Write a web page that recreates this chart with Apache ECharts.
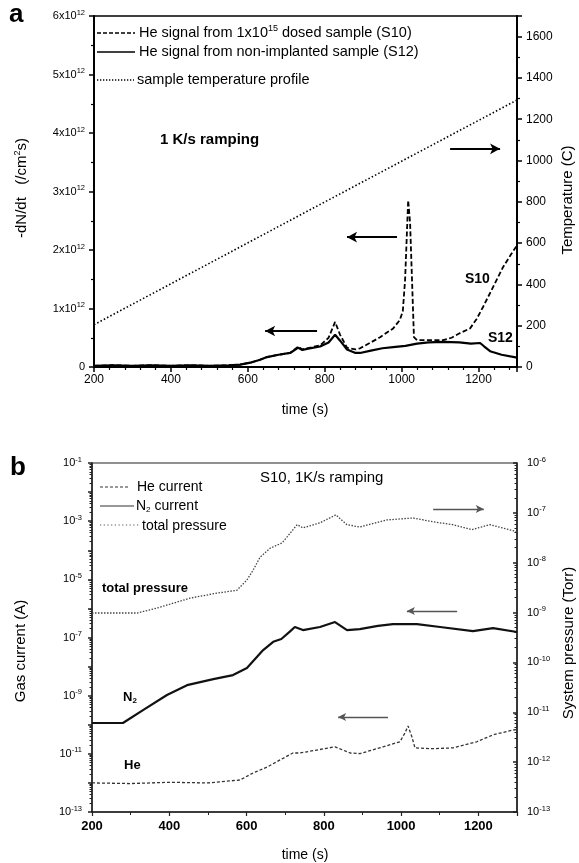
<!DOCTYPE html>
<html><head><meta charset="utf-8">
<script src="https://cdn.jsdelivr.net/npm/echarts@6/dist/echarts.min.js"></script>
<style>html,body{margin:0;padding:0;background:#fff}#c{width:579px;height:863px}</style>
</head><body><div id="c"></div>
<script>
const FONT = '"Liberation Sans", Arial, sans-serif';

// ---------- Panel a data ----------
const s10Time = [200,250,300,350,400,450,500,550,580,610,630,650,680,710,731,742,754,788,810,827,840,858,880,892,920,944,978,995,1003,1009,1017,1022,1027,1032,1040,1070,1108,1130,1152,1178,1195,1212,1238,1264,1285,1300];
const s10Signal = [0.02e12,0.03e12,0.02e12,0.03e12,0.02e12,0.03e12,0.02e12,0.03e12,0.04e12,0.08e12,0.12e12,0.17e12,0.21e12,0.24e12,0.35e12,0.30e12,0.32e12,0.37e12,0.50e12,0.77e12,0.55e12,0.33e12,0.30e12,0.32e12,0.42e12,0.51e12,0.66e12,0.80e12,0.95e12,1.49e12,2.85e12,2.46e12,1.49e12,0.51e12,0.46e12,0.46e12,0.46e12,0.50e12,0.58e12,0.66e12,0.82e12,1.03e12,1.37e12,1.71e12,1.93e12,2.08e12];
const s12Time = [200,250,300,350,400,450,500,550,580,610,630,650,680,710,731,742,754,788,810,827,840,858,880,892,920,950,978,1010,1040,1070,1108,1150,1180,1204,1215,1230,1260,1300];
const s12Signal = [0.02e12,0.03e12,0.02e12,0.03e12,0.02e12,0.03e12,0.02e12,0.03e12,0.04e12,0.08e12,0.12e12,0.17e12,0.21e12,0.24e12,0.33e12,0.29e12,0.31e12,0.35e12,0.42e12,0.55e12,0.45e12,0.30e12,0.24e12,0.24e12,0.28e12,0.32e12,0.34e12,0.36e12,0.40e12,0.42e12,0.43e12,0.42e12,0.40e12,0.41e12,0.35e12,0.27e12,0.21e12,0.16e12];
const tempTime = [200,736,1300];
const tempValue = [205,736,1293];

// ---------- Panel b data ----------
const n2Time = [200,280,332,394,446,514,565,601,643,669,690,712,725,746,790,829,860,893,940,979,1041,1101,1186,1238,1300];
const n2Current = [1.15e-10,1.15e-10,3.2e-10,1.05e-9,2.3e-9,3.7e-9,5.1e-9,8.9e-9,3.7e-8,7.1e-8,8.9e-8,1.6e-7,2.3e-7,1.8e-7,2.3e-7,3.4e-7,1.8e-7,1.95e-7,2.5e-7,2.9e-7,2.9e-7,2.3e-7,1.66e-7,2.1e-7,1.55e-7];
const heTime = [200,300,400,500,583,617,653,687,720,738,782,829,868,894,953,997,1010,1018,1028,1036,1083,1134,1196,1238,1290,1300];
const heCurrent = [1.0e-12,9.5e-13,1.05e-12,1.0e-12,1.26e-12,2.2e-12,3.5e-12,6.2e-12,1.07e-11,1.07e-11,1.35e-11,1.74e-11,1.07e-11,1.02e-11,1.74e-11,2.6e-11,5.2e-11,9.1e-11,3.8e-11,1.6e-11,1.5e-11,1.6e-11,2.6e-11,4.5e-11,6.6e-11,6.8e-11];
const ptTime = [200,317,368,454,523,575,601,617,635,661,692,705,731,746,790,831,860,893,963,1031,1083,1134,1183,1230,1300];
const ptPressure = [9.8e-10,9.8e-10,1.23e-9,1.95e-9,2.45e-9,2.8e-9,4.5e-9,7.1e-9,1.29e-8,1.95e-8,2.5e-8,3.3e-8,5.8e-8,5.0e-8,6.3e-8,9.1e-8,5.8e-8,5.2e-8,7.2e-8,7.9e-8,6.6e-8,5.8e-8,4.6e-8,5.8e-8,4.2e-8];

// arrows (data units): [t_from, t_to, value]
const arrowsA_left = [[780,645,0.615e12],[988,858,2.22e12],[1126,1256,3.73e12]];
const arrowsB_left = [[1083,1214,2.6e-3],[1145,1015,8.1e-7],[966,837,1.86e-10]];

const zip = (a,b) => a.map((x,i)=>[x,b[i]]);
const minorLogLeft = [], minorLogRight = [];
for (let k=-13;k<=-2;k++) for (let m=2;m<=9;m++) minorLogLeft.push(m*Math.pow(10,k));
for (let k=-13;k<=-7;k++) for (let m=2;m<=9;m++) minorLogRight.push(m*Math.pow(10,k));

const supRich = {
  m:{fontSize:11,fontFamily:FONT,color:'#000'},
  s:{fontSize:7.5,fontFamily:FONT,color:'#000',padding:[0,0,7,0]}
};
const expOf = v => Math.round(Math.log10(v));
const plain = v => String(Math.round(v));

const chart = echarts.init(document.getElementById('c'));
const arrowLine = (arr, w, color, size) => ({
  silent:true, symbol:['none','arrow'], symbolSize:size, animation:false,
  lineStyle:{type:'solid',width:w,color:color}, label:{show:false},
  itemStyle:{color:color},
  emphasis:{disabled:true},
  data: arr.map(a=>[{coord:[a[0],a[2]]},{coord:[a[1],a[2]]}])
});

const option = {
  animation:false,
  textStyle:{fontFamily:FONT},
  grid:[
    {left:94,top:16,width:423,height:351,show:true,borderColor:'#000',borderWidth:1.5},
    {left:92,top:463,width:425,height:349,show:true,borderColor:'#222',borderWidth:1.2}
  ],
  xAxis:[
    {gridIndex:0,type:'value',min:200,max:1300,interval:200,
     axisLine:{lineStyle:{color:'#000',width:2}},
     axisTick:{length:5,lineStyle:{width:1.5}},
     minorTick:{show:true,splitNumber:5,length:3,lineStyle:{color:'#000',width:1.2}},
     splitLine:{show:false},
     axisLabel:{fontSize:12,color:'#000',margin:7,showMaxLabel:false,formatter:plain}},
    {gridIndex:1,type:'value',min:200,max:1300,interval:200,
     axisLine:{lineStyle:{color:'#222',width:1.5}},
     axisTick:{length:4,lineStyle:{width:1.2}},
     minorTick:{show:true,splitNumber:2,length:3,lineStyle:{color:'#222',width:1}},
     splitLine:{show:false},
     axisLabel:{fontSize:13,fontWeight:'bold',color:'#000',margin:8,showMaxLabel:false,formatter:plain}}
  ],
  yAxis:[
    {gridIndex:0,type:'value',min:0,max:6e12,interval:1e12,position:'left',
     axisLine:{show:true,lineStyle:{color:'#000',width:2}},
     axisTick:{show:true,length:5,lineStyle:{width:1.5}},
     minorTick:{show:true,splitNumber:2,length:3,lineStyle:{color:'#000',width:1.2}},
     splitLine:{show:false},
     axisLabel:{margin:9,formatter:v=>v===0?'{m|0}':'{m|'+Math.round(v/1e12)+'x10}{s|12}',rich:supRich}},
    {gridIndex:0,type:'value',min:0,max:1700,interval:200,position:'right',
     axisLine:{show:true,lineStyle:{color:'#000',width:2}},
     axisTick:{show:true,length:5,lineStyle:{width:1.5}},
     minorTick:{show:true,splitNumber:2,length:3,lineStyle:{color:'#000',width:1.2}},
     splitLine:{show:false},
     axisLabel:{fontSize:12,color:'#000',margin:9,showMaxLabel:false,formatter:plain}},
    {gridIndex:1,type:'log',logBase:10,min:1e-13,max:1e-1,interval:1,position:'left',
     axisLine:{show:true,lineStyle:{color:'#222',width:1.5}},
     axisTick:{show:true,length:4,lineStyle:{width:1.5}},
     splitLine:{show:false},
     axisLabel:{margin:10,formatter:v=>{const e=expOf(v);return (Math.abs(e)%2===1)?'{m|10}{s|'+e+'}':'';},rich:supRich}},
    {gridIndex:1,type:'log',logBase:10,min:1e-13,max:1e-6,interval:1,position:'right',
     axisLine:{show:true,lineStyle:{color:'#222',width:1.5}},
     axisTick:{show:true,inside:true,length:4,lineStyle:{width:1.5}},
     splitLine:{show:false},
     axisLabel:{margin:10,formatter:v=>'{m|10}{s|'+expOf(v)+'}',rich:supRich}},
    {gridIndex:1,type:'log',logBase:10,min:1e-13,max:1e-1,position:'left',
     axisLine:{show:false},axisLabel:{show:false},splitLine:{show:false},
     axisTick:{show:true,length:2.5,customValues:minorLogLeft,lineStyle:{color:'#222',width:1}}},
    {gridIndex:1,type:'log',logBase:10,min:1e-13,max:1e-6,position:'right',
     axisLine:{show:false},axisLabel:{show:false},splitLine:{show:false},
     axisTick:{show:true,inside:true,length:2.5,customValues:minorLogRight,lineStyle:{color:'#222',width:1}}}
  ],
  series:[
    {name:'temp',type:'line',xAxisIndex:0,yAxisIndex:1,data:zip(tempTime,tempValue),showSymbol:false,symbol:'none',
     lineStyle:{color:'#000',width:1.6,type:[1.5,2.2]}},
    {name:'S12',type:'line',xAxisIndex:0,yAxisIndex:0,data:zip(s12Time,s12Signal),showSymbol:false,symbol:'none',
     lineStyle:{color:'#000',width:2.2,type:'solid'},
     markLine:arrowLine(arrowsA_left,2,'#000',[8,10])},
    {name:'S10',type:'line',xAxisIndex:0,yAxisIndex:0,data:zip(s10Time,s10Signal),showSymbol:false,symbol:'none',
     lineStyle:{color:'#000',width:1.8,type:[5,2.5]}},
    {name:'total',type:'line',xAxisIndex:1,yAxisIndex:3,data:zip(ptTime,ptPressure),showSymbol:false,symbol:'none',
     lineStyle:{color:'#444',width:1.3,type:[1.5,1.5]}},
    {name:'N2',type:'line',xAxisIndex:1,yAxisIndex:2,data:zip(n2Time,n2Current),showSymbol:false,symbol:'none',
     lineStyle:{color:'#111',width:2.2,type:'solid'},
     markLine:arrowLine(arrowsB_left,1.3,'#555',[6,8])},
    {name:'He',type:'line',xAxisIndex:1,yAxisIndex:2,data:zip(heTime,heCurrent),showSymbol:false,symbol:'none',
     lineStyle:{color:'#333',width:1.3,type:[3,2]}}
  ],
  graphic:[
    {type:'text',x:9,y:2,style:{text:'a',font:'bold 26px '+FONT,fill:'#000'}},
    {type:'text',x:10,y:455,style:{text:'b',font:'bold 26px '+FONT,fill:'#000'}},
    {type:'line',shape:{x1:97,y1:33,x2:135,y2:33},style:{stroke:'#000',lineWidth:1.5,lineDash:[4,2]}},
    {type:'text',x:139,y:33,style:{text:'He signal from 1x10{s|15} dosed sample (S10)',font:'14.5px '+FONT,fill:'#000',verticalAlign:'middle',
      rich:{s:{fontSize:9,fontFamily:FONT,padding:[0,0,9,0]}}}},
    {type:'line',shape:{x1:97,y1:52,x2:135,y2:52},style:{stroke:'#000',lineWidth:1.5}},
    {type:'text',x:139,y:52,style:{text:'He signal from non-implanted sample (S12)',font:'14.5px '+FONT,fill:'#000',verticalAlign:'middle'}},
    {type:'line',shape:{x1:97,y1:80,x2:134,y2:80},style:{stroke:'#000',lineWidth:1.5,lineDash:[1.3,1.7]}},
    {type:'text',x:137,y:80,style:{text:'sample temperature profile',font:'14.5px '+FONT,fill:'#000',verticalAlign:'middle'}},
    {type:'text',x:160,y:140,style:{text:'1 K/s ramping',font:'bold 15px '+FONT,fill:'#000',verticalAlign:'middle'}},
    {type:'text',x:465,y:279,style:{text:'S10',font:'bold 14px '+FONT,fill:'#000',verticalAlign:'middle'}},
    {type:'text',x:488,y:338,style:{text:'S12',font:'bold 14px '+FONT,fill:'#000',verticalAlign:'middle'}},
    {type:'text',x:305,y:410,style:{text:'time (s)',font:'14px '+FONT,fill:'#000',align:'center',verticalAlign:'middle'}},
    {type:'text',x:22,y:188,rotation:Math.PI/2,style:{text:'-dN/dt   (/cm{s|2}s)',font:'15px '+FONT,fill:'#000',align:'center',verticalAlign:'middle',
      rich:{s:{fontSize:9,fontFamily:FONT,padding:[0,0,8,0]}}}},
    {type:'text',x:568,y:200,rotation:Math.PI/2,style:{text:'Temperature (C)',font:'15px '+FONT,fill:'#000',align:'center',verticalAlign:'middle'}},
    {type:'line',shape:{x1:100,y1:487,x2:130,y2:487},style:{stroke:'#333',lineWidth:1.2,lineDash:[3,2]}},
    {type:'text',x:137,y:487,style:{text:'He current',font:'14px '+FONT,fill:'#000',verticalAlign:'middle'}},
    {type:'line',shape:{x1:100,y1:506,x2:134,y2:506},style:{stroke:'#333',lineWidth:1.2}},
    {type:'text',x:136,y:506,style:{text:'N{sb|2} current',font:'14px '+FONT,fill:'#000',verticalAlign:'middle',
      rich:{sb:{fontSize:8,fontFamily:FONT,padding:[8,0,0,0]}}}},
    {type:'line',shape:{x1:100,y1:525,x2:140,y2:525},style:{stroke:'#555',lineWidth:1.1,lineDash:[1.2,2.5]}},
    {type:'text',x:142,y:526,style:{text:'total pressure',font:'14px '+FONT,fill:'#000',verticalAlign:'middle'}},
    {type:'text',x:260,y:478,style:{text:'S10, 1K/s ramping',font:'15px '+FONT,fill:'#000',verticalAlign:'middle'}},
    {type:'text',x:102,y:588,style:{text:'total pressure',font:'bold 13px '+FONT,fill:'#000',verticalAlign:'middle'}},
    {type:'text',x:123,y:697,style:{text:'N{sb|2}',font:'bold 13px '+FONT,fill:'#000',verticalAlign:'middle',
      rich:{sb:{fontSize:8,fontWeight:'bold',fontFamily:FONT,padding:[8,0,0,0]}}}},
    {type:'text',x:124,y:765,style:{text:'He',font:'bold 13px '+FONT,fill:'#000',verticalAlign:'middle'}},
    {type:'text',x:305,y:855,style:{text:'time (s)',font:'14px '+FONT,fill:'#000',align:'center',verticalAlign:'middle'}},
    {type:'text',x:21,y:651,rotation:Math.PI/2,style:{text:'Gas current (A)',font:'15px '+FONT,fill:'#000',align:'center',verticalAlign:'middle'}},
    {type:'text',x:569,y:643,rotation:Math.PI/2,style:{text:'System pressure (Torr)',font:'15px '+FONT,fill:'#000',align:'center',verticalAlign:'middle'}}
  ]
};
chart.setOption(option);
</script></body></html>
